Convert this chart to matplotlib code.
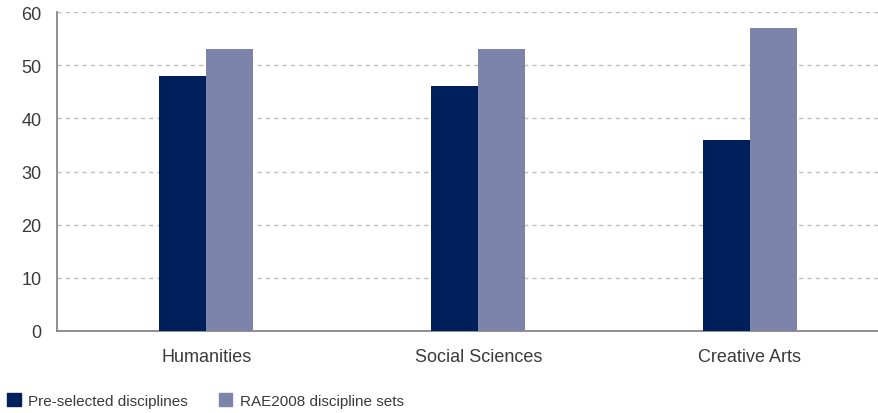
import matplotlib
matplotlib.use("Agg")
import matplotlib.pyplot as plt
from matplotlib.patches import Patch
import numpy as np

categories = ["Humanities", "Social Sciences", "Creative Arts"]
pre_selected = [48, 46, 36]
rae2008 = [53, 53, 57]
series_names = ["Pre-selected disciplines", "RAE2008 discipline sets"]
colors = ["#00205b", "#7c85a9"]

plt.rcParams["font.family"] = ["Liberation Sans", "DejaVu Sans"]

fig = plt.figure(figsize=(8.79, 4.14), dpi=100)
ax = fig.add_axes([57 / 879, 82 / 414, 822 / 879, 319 / 414])

x = np.arange(len(categories))
w = 0.173
ax.bar(x - w / 2, pre_selected, width=w, color=colors[0], zorder=3)
ax.bar(x + w / 2, rae2008, width=w, color=colors[1], zorder=3)

ax.set_xlim(-0.55, 2.475)
ax.set_ylim(0, 60)
ax.set_yticks(range(0, 61, 10))
ax.set_xticks(x)
ax.set_xticklabels(categories)
ax.yaxis.grid(True, linestyle=(0, (3, 3)), color="#bdbdbd", linewidth=1)
ax.set_axisbelow(True)

for s in ["top", "right"]:
    ax.spines[s].set_visible(False)
for s in ["left", "bottom"]:
    ax.spines[s].set_color("#888888")
    ax.spines[s].set_linewidth(1.3)

ax.tick_params(axis="both", length=0, labelsize=13, labelcolor="#3a3a3a")
ax.tick_params(axis="x", pad=12)
ax.tick_params(axis="y", pad=11)

handles = [Patch(color=c) for c in colors]
fig.legend(handles, series_names, loc="lower left", bbox_to_anchor=(7 / 879, 5 / 414),
           ncol=2, frameon=False, fontsize=11, handlelength=0.9, handleheight=0.9,
           handletextpad=0.5, columnspacing=2.0, labelcolor="#3a3a3a",
           borderpad=0, borderaxespad=0)

fig.savefig("out.png", dpi=100)
